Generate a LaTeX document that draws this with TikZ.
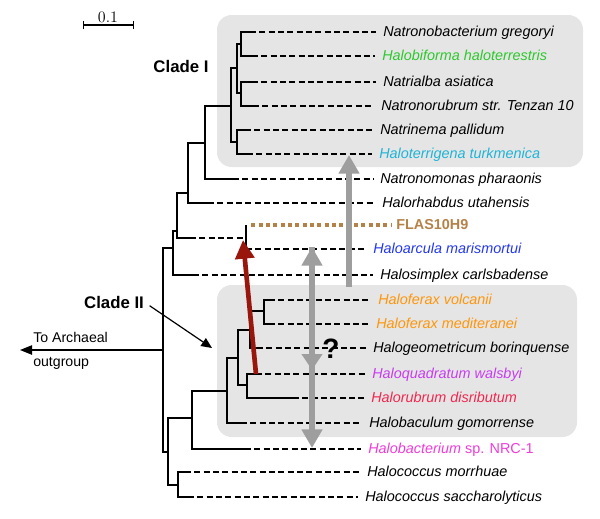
\documentclass[tikz,border=0pt]{standalone}
\usepackage{fontspec}
\setsansfont{Liberation Sans}
\usetikzlibrary{arrows.meta}
\definecolor{boxgray}{RGB}{229,229,229}
\definecolor{arrgray}{RGB}{158,158,158}
\definecolor{arrred}{RGB}{152,22,12}
\definecolor{cgreen}{RGB}{45,200,45}
\definecolor{ccyan}{RGB}{30,180,215}
\definecolor{cbrown}{RGB}{180,130,72}
\definecolor{cblue}{RGB}{35,55,240}
\definecolor{corange}{RGB}{255,150,10}
\definecolor{cviolet}{RGB}{200,60,240}
\definecolor{cred}{RGB}{240,40,80}
\definecolor{cpink}{RGB}{240,60,215}
\tikzset{
  br/.style={line width=1pt},
  dsh/.style={line width=1pt,dash pattern=on 4.5pt off 2.5pt,shorten >=5pt},
  sp/.style={font=\sffamily\itshape\fontsize{10.8}{13}\selectfont,anchor=west,inner sep=0pt,text height=8.5pt,text depth=1.7pt},
  plain/.style={font=\sffamily\fontsize{10.6}{13}\selectfont,anchor=west,inner sep=0pt,text height=8.5pt,text depth=1.7pt},
  clade/.style={font=\sffamily\bfseries\fontsize{12.6}{15}\selectfont,inner sep=0pt},
  fat/.style={line width=4pt,arrgray},
}

\begin{document}
\begin{tikzpicture}[x=0.75pt,y=-0.75pt]
  \useasboundingbox (0,0) rectangle (600,518);
  \fill[boxgray,rounded corners=11pt] (217,15) rectangle (583,167);
  \fill[boxgray,rounded corners=11pt] (217,285) rectangle (577,437);

  \coordinate (n1) at (241,44);
  \coordinate (n2) at (241,93);
  \coordinate (n3) at (237,68);
  \coordinate (n4) at (237,142);
  \coordinate (n5) at (231,106);
  \coordinate (n6) at (205,143);
  \coordinate (n7) at (188,193);
  \coordinate (n8) at (177,231);
  \coordinate (m9) at (190,238);
  \coordinate (n9) at (246,238);
  \coordinate (n10) at (173,248);
  \coordinate (root) at (163,350);
  \coordinate (n11) at (168,452);
  \coordinate (n12) at (192,418);
  \coordinate (n13) at (178,485);
  \coordinate (n14) at (227,391);
  \coordinate (n15) at (238,358);
  \coordinate (n16) at (250,330);
  \coordinate (n17) at (264,311);
  \coordinate (n18) at (247,385);

  \coordinate (t1) at (250,32);
  \coordinate (t2) at (252,56);
  \coordinate (t3) at (252,82);
  \coordinate (t4) at (253,106);
  \coordinate (t5) at (245,130);
  \coordinate (t6) at (247,154);
  \coordinate (t7) at (233,179);
  \coordinate (t8) at (208,203);
  \coordinate (t9) at (246,225);
  \coordinate (t10) at (246,249);
  \coordinate (t11) at (193,275);
  \coordinate (t12) at (269,300);
  \coordinate (t13) at (269,324);
  \coordinate (t14) at (257,348);
  \coordinate (t15) at (256,374);
  \coordinate (t16) at (293,398);
  \coordinate (t17) at (241,423);
  \coordinate (t18) at (245,449);
  \coordinate (t19) at (185,472);
  \coordinate (t20) at (188,497);

  \draw[br] (n1) |- (t1) (n1) |- (t2) (n2) |- (t3) (n2) |- (t4);
  \draw[br] (n3) |- (n1) (n3) |- (n2) (n4) |- (t5) (n4) |- (t6);
  \draw[br] (n5) |- (n3) (n5) |- (n4) (n6) |- (n5) (n6) |- (t7);
  \draw[br] (n7) |- (n6) (n7) |- (t8) (n8) |- (n7) (n8) |- (m9);
  \draw[br] (n9) -- (t9) (n9) -- (t10) (n10) |- (n8) (n10) |- (t11);
  \draw[br] (root) |- (n10) (root) |- (n11);
  \draw[br] (n11) |- (n12) (n11) |- (n13) (n13) |- (t19) (n13) |- (t20);
  \draw[br] (n12) |- (n14) (n12) |- (t18) (n14) |- (n15) (n14) |- (t17);
  \draw[br] (n15) |- (n16) (n15) |- (n18) (n16) |- (n17) (n16) |- (t14);
  \draw[br] (n17) |- (t12) (n17) |- (t13) (n18) |- (t15) (n18) |- (t16);
  \draw[dsh,shorten >=0pt] (m9) -- (n9);

  \node[sp] (l1) at (383,32) {Natronobacterium gregoryi};
  \node[sp,cgreen] (l2) at (382,56) {Halobiforma haloterrestris};
  \node[sp] (l3) at (383,82) {Natrialba asiatica};
  \node[sp] (l4) at (381,106) {Natronorubrum str. Tenzan 10};
  \node[sp] (l5) at (380,130) {Natrinema pallidum};
  \node[sp,ccyan] (l6) at (379,154) {Haloterrigena turkmenica};
  \node[sp] (l7) at (380,179) {Natronomonas pharaonis};
  \node[sp] (l8) at (382,203) {Halorhabdus utahensis};
  \node[sp,font=\sffamily\bfseries\fontsize{10.8}{13}\selectfont,cbrown] (l9) at (396,225) {FLAS10H9};
  \node[sp,cblue] (l10) at (373,249) {Haloarcula marismortui};
  \node[sp] (l11) at (380,275) {Halosimplex carlsbadense};
  \node[sp,corange] (l12) at (378,300) {Haloferax volcanii};
  \node[sp,corange] (l13) at (376,324) {Haloferax mediteranei};
  \node[sp] (l14) at (373,348) {Halogeometricum borinquense};
  \node[sp,cviolet] (l15) at (372,374) {Haloquadratum walsbyi};
  \node[sp,cred] (l16) at (371,398) {Halorubrum disributum};
  \node[sp] (l17) at (369,423) {Halobaculum gomorrense};
  \node[sp,cpink] (l18) at (368,449) {Halobacterium {\upshape sp. NRC-1}};
  \node[sp] (l19) at (367,472) {Halococcus morrhuae};
  \node[sp] (l20) at (365,497) {Halococcus saccharolyticus};

  \path[dsh] (t1) edge (l1) (t2) edge (l2) (t3) edge (l3) (t4) edge (l4)
    (t5) edge (l5) (t6) edge (l6) (t7) edge (l7) (t8) edge (l8)
    (t10) edge (l10) (t11) edge (l11) (t12) edge (l12) (t13) edge (l13)
    (t14) edge (l14) (t15) edge (l15) (t16) edge (l16) (t17) edge (l17)
    (t18) edge (l18) (t19) edge (l19) (t20) edge (l20);
  \draw[cbrown,line width=3pt,dash pattern=on 3pt off 2.5pt,shorten <=4pt,shorten >=3pt] (t9) -- (l9);

  \node[clade] (c1) at (181,66) {Clade I};
  \node[clade] (c2) at (114,302) {Clade II};
  \coordinate (c2tip) at (212,348);
  \draw[line width=0.9pt,-{Triangle[width=7pt,length=8pt]},shorten <=5pt] (c2.east) -- (c2tip);

  \coordinate (out) at (20,350);
  \draw[line width=1pt,-{Triangle[width=7pt,length=9pt]}] (root) -- (out);
  \node[plain] (to) at (33,338) {To Archaeal};
  \node[plain] (og) at (33,362) {outgroup};

  \node[inner sep=0pt,font=\fontsize{12}{14}\selectfont] (sc) at (108,17) {0.1};
  \coordinate (sa) at (83,25);
  \coordinate (sb) at (134,25);
  \draw[line width=0.9pt,{Bar[width=6pt]}-{Bar[width=6pt]}] (sa) -- (sb);

  \coordinate (gs) at (349,287);
  \coordinate (gt) at (349,155);
  \draw[fat,-{Triangle[width=15pt,length=14pt]}] (gs) -- (gt);
  \coordinate (ga) at (312,247);
  \coordinate (gm) at (312,370);
  \coordinate (gb) at (312,448);
  \draw[fat,{Triangle[width=15pt,length=14pt]}-{Triangle[width=15pt,length=14pt]}] (ga) -- (gb);
  \draw[fat,-{Triangle[width=15pt,length=12pt]}] (ga) -- (gm);
  \coordinate (rtip) at (243,240);
  \draw[arrred,line width=3.5pt,-{Triangle[width=14pt,length=14pt]}] (t15) -- (rtip);
  \node[inner sep=0pt,font=\sffamily\bfseries\fontsize{21}{24}\selectfont] (q) at (331,349) {?};
\end{tikzpicture}
\end{document}
